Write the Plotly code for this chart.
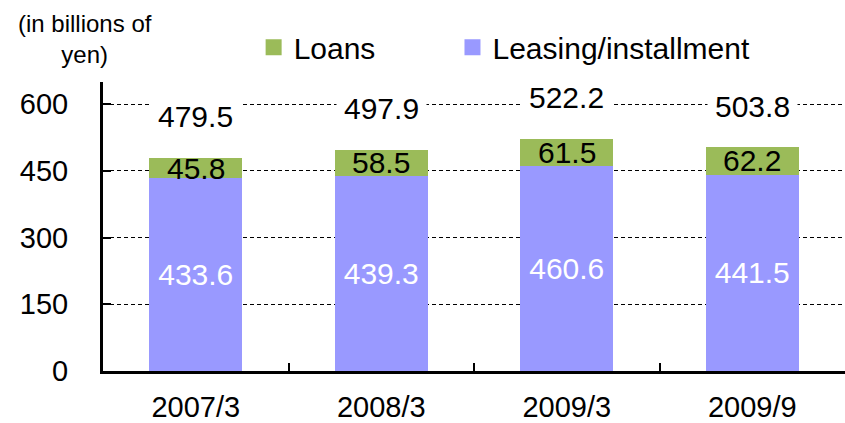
import plotly.graph_objects as go

categories = ["2007/3", "2008/3", "2009/3", "2009/9"]
leasing = [433.6, 439.3, 460.6, 441.5]
loans = [45.8, 58.5, 61.5, 62.2]
totals = [479.5, 497.9, 522.2, 503.8]
y_ticks = [0, 150, 300, 450, 600]

FONT = "Liberation Sans, Arial, sans-serif"
GREEN = "#9BBB59"
PURPLE = "#9999FF"

fig = go.Figure()
fig.add_trace(go.Bar(
    x=categories, y=leasing, name="Leasing/installment",
    marker=dict(color=PURPLE, line=dict(width=0)),
    text=[f"{v:.1f}" for v in leasing], textposition="inside",
    insidetextanchor="middle", textfont=dict(color="white", size=30, family=FONT),
    width=0.5, showlegend=False,
))
fig.add_trace(go.Bar(
    x=categories, y=loans, name="Loans",
    marker=dict(color=GREEN, line=dict(width=0)),
    width=0.5, showlegend=False,
))
# legend entries (square swatches)
fig.add_trace(go.Scatter(x=[None], y=[None], mode="markers", name="Loans",
                         marker=dict(symbol="square", size=16, color=GREEN), legend="legend"))
fig.add_trace(go.Scatter(x=[None], y=[None], mode="markers", name="Leasing/installment",
                         marker=dict(symbol="square", size=16, color=PURPLE), legend="legend2"))

for c, a, b, t in zip(categories, leasing, loans, totals):
    fig.add_annotation(x=c, y=a + b / 2, text=f"{b:.1f}", showarrow=False,
                       font=dict(size=30, color="black", family=FONT), yanchor="middle")
    fig.add_annotation(x=c, y=t, text=f"{t:.1f}", showarrow=False,
                       font=dict(size=30, color="black", family=FONT), yanchor="middle",
                       yshift=41, bgcolor="white", borderpad=7)

fig.add_annotation(xref="paper", yref="paper", x=-0.024, y=1.04, xanchor="center", yanchor="bottom",
                   text="(in billions of<br>yen)", showarrow=False, align="center",
                   font=dict(size=24, color="black", family=FONT))

legend_common = dict(orientation="h", xanchor="left", yanchor="middle", y=1.12,
                     font=dict(size=30, family=FONT, color="black"), bgcolor="rgba(0,0,0,0)",
                     itemsizing="trace")
fig.update_layout(
    barmode="stack",
    width=845, height=423,
    margin=dict(l=103, r=0, t=82, b=52, autoexpand=False),
    paper_bgcolor="white", plot_bgcolor="white",
    font=dict(family=FONT, size=30, color="black"),
    legend=dict(x=0.203, **legend_common),
    legend2=dict(x=0.471, **legend_common),
    showlegend=True,
)
fig.update_xaxes(showline=True, linecolor="black", linewidth=3, ticks="inside",
                 tickson="boundaries", ticklen=8, tickcolor="black", tickwidth=2,
                 showgrid=False, tickfont=dict(size=29, family=FONT), automargin=False,
                 ticklabelstandoff=8)
fig.update_yaxes(range=[0, 650], tickvals=y_ticks, showline=True, linecolor="black", linewidth=3,
                 showgrid=True, gridcolor="black", griddash="4px,3px", gridwidth=1,
                 ticks="inside", ticklen=8, tickcolor="black", tickwidth=2,
                 ticklabelstandoff=26, zeroline=False, automargin=False,
                 tickfont=dict(size=29, family=FONT))

fig.write_html("out.html", config={"displayModeBar": False},
               post_script="document.body.style.margin='0';")
